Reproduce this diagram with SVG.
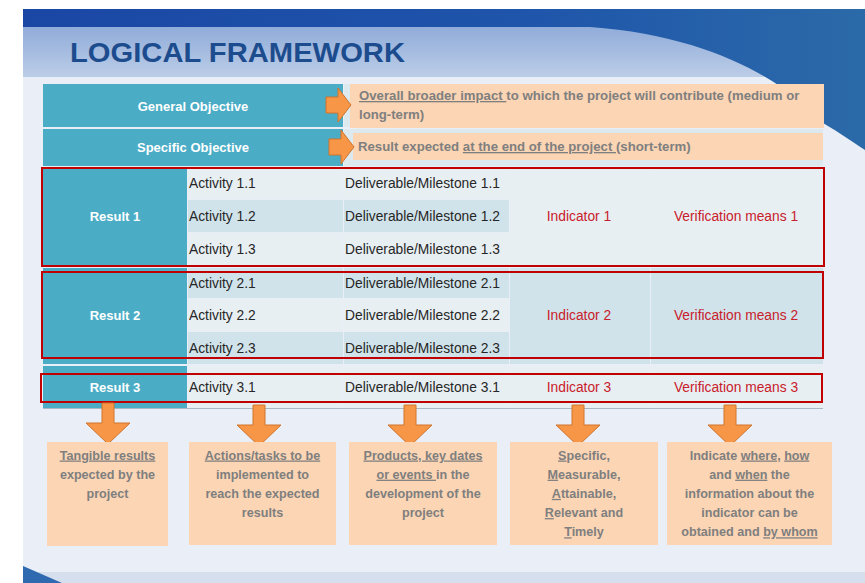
<svg xmlns="http://www.w3.org/2000/svg" width="865" height="583" viewBox="0 0 865 583">
<defs>
<linearGradient id="band" x1="0" y1="0" x2="0" y2="1"><stop offset="0" stop-color="#90acd9"/><stop offset="1" stop-color="#bccde7"/></linearGradient>
<linearGradient id="dark" x1="0" y1="0" x2="1" y2="0"><stop offset="0" stop-color="#1a47a4"/><stop offset="0.6" stop-color="#1f55ab"/><stop offset="1" stop-color="#2b6aa8"/></linearGradient>
<path id="darr" d="M-6,0 H6 V20 H22 L0,41 L-22,20 H-6 Z"/>
<path id="rarr" d="M0,-8 H12 V-17 L25,0 L12,17 V8 H0 Z"/>
<style>
.teal{fill:#4bacc6}
.lt{fill:#e8eff3}
.md{fill:#d1e3ea}
.peach{fill:#fcd5b4}
.arr{fill:#f79646;stroke:#d0742c;stroke-width:1}
.red{fill:none;stroke:#c00000;stroke-width:2}
.wh{font-family:"Liberation Sans",Arial,sans-serif;font-size:13px;font-weight:bold;fill:#ffffff;text-anchor:middle}
.tx{font-family:"Liberation Sans",Arial,sans-serif;font-size:13.8px;fill:#262626}
.rd{font-family:"Liberation Sans",Arial,sans-serif;font-size:13.8px;fill:#c8202a;text-anchor:middle}
.gy{font-family:"Liberation Sans",Arial,sans-serif;font-size:13.2px;font-weight:bold;fill:#7f7f7f}
.gc{font-family:"Liberation Sans",Arial,sans-serif;font-size:12.6px;font-weight:bold;fill:#7f7f7f;text-anchor:middle}
.u{text-decoration:underline}
</style>
</defs>
<rect x="0" y="0" width="865" height="583" fill="#ffffff"/>
<g id="background">
<rect x="23" y="9" width="842" height="574" fill="#e9eef7"/>
<rect x="23" y="572" width="842" height="11" fill="#d6dfee"/>
<rect x="23" y="27" width="842" height="50" fill="url(#band)"/>
<path d="M23,9 H865 V150 C850,140 832,128 818,120 C795,90 720,36 590,27 H23 Z" fill="url(#dark)"/>
<path d="M23,566 L62,583 H23 Z" fill="#2f6ab0"/>
<text x="70" y="62" font-family="'Liberation Sans',Arial,sans-serif" font-size="28.5" font-weight="bold" fill="#1c4c8e" textLength="335" lengthAdjust="spacingAndGlyphs">LOGICAL FRAMEWORK</text>
</g>
<g id="table-cells">
<rect x="43" y="84" width="300" height="43" class="teal"/>
<rect x="344" y="84" width="479" height="43" fill="#dce9ef"/>
<rect x="43" y="129" width="300" height="37" class="teal"/>
<rect x="344" y="129" width="479" height="37" fill="#dce9ef"/>
<rect x="43" y="168" width="144" height="98" class="teal"/>
<rect x="43" y="268" width="144" height="96" class="teal"/>
<rect x="43" y="366" width="144" height="42" class="teal"/>
<rect x="188" y="168" width="155" height="31" class="lt"/>
<rect x="344" y="168" width="165" height="31" class="lt"/>
<rect x="188" y="200" width="155" height="32" class="md"/>
<rect x="344" y="200" width="165" height="32" class="md"/>
<rect x="188" y="233" width="155" height="33" class="lt"/>
<rect x="344" y="233" width="165" height="33" class="lt"/>
<rect x="510" y="168" width="140" height="98" class="lt"/>
<rect x="651" y="168" width="172" height="98" class="lt"/>
<rect x="188" y="268" width="155" height="30" class="md"/>
<rect x="344" y="268" width="165" height="30" class="md"/>
<rect x="188" y="299" width="155" height="32" class="lt"/>
<rect x="344" y="299" width="165" height="32" class="lt"/>
<rect x="188" y="332" width="155" height="32" class="md"/>
<rect x="344" y="332" width="165" height="32" class="md"/>
<rect x="510" y="268" width="140" height="96" class="md"/>
<rect x="651" y="268" width="172" height="96" class="md"/>
<rect x="188" y="366" width="155" height="42" class="lt"/>
<rect x="344" y="366" width="165" height="42" class="lt"/>
<rect x="510" y="366" width="140" height="42" class="lt"/>
<rect x="651" y="366" width="172" height="42" class="lt"/>
<line x1="43" y1="408.5" x2="823" y2="408.5" stroke="#aab8c4" stroke-width="1"/>
</g>
<g id="general-objective">
<text x="193" y="111" class="wh">General Objective</text>
<rect x="350" y="84" width="474" height="44" class="peach"/>
<text x="359" y="100" class="gy"><tspan class="u">Overall broader impact </tspan>to which the project will contribute (medium or</text>
<text x="359" y="119" class="gy">long-term)</text>
</g>
<g id="specific-objective">
<text x="193" y="152" class="wh">Specific Objective</text>
<rect x="353" y="133" width="470" height="27" class="peach"/>
<text x="358" y="151" class="gy">Result expected <tspan class="u">at the end of the project </tspan>(short-term)</text>
</g>
<g id="result-1">
<text x="115" y="221" class="wh">Result 1</text>
<text x="189" y="188" class="tx">Activity 1.1</text>
<text x="345" y="188" class="tx">Deliverable/Milestone 1.1</text>
<text x="189" y="221" class="tx">Activity 1.2</text>
<text x="345" y="221" class="tx">Deliverable/Milestone 1.2</text>
<text x="189" y="254" class="tx">Activity 1.3</text>
<text x="345" y="254" class="tx">Deliverable/Milestone 1.3</text>
<text x="579" y="221" class="rd">Indicator 1</text>
<text x="736" y="221" class="rd">Verification means 1</text>
<rect x="42" y="168" width="782" height="98" class="red"/>
</g>
<g id="result-2">
<text x="115" y="320" class="wh">Result 2</text>
<text x="189" y="288" class="tx">Activity 2.1</text>
<text x="345" y="288" class="tx">Deliverable/Milestone 2.1</text>
<text x="189" y="320" class="tx">Activity 2.2</text>
<text x="345" y="320" class="tx">Deliverable/Milestone 2.2</text>
<text x="189" y="353" class="tx">Activity 2.3</text>
<text x="345" y="353" class="tx">Deliverable/Milestone 2.3</text>
<text x="579" y="320" class="rd">Indicator 2</text>
<text x="736" y="320" class="rd">Verification means 2</text>
<rect x="42" y="272" width="781" height="86" class="red"/>
</g>
<g id="result-3">
<text x="115" y="392" class="wh">Result 3</text>
<text x="189" y="392" class="tx">Activity 3.1</text>
<text x="345" y="392" class="tx">Deliverable/Milestone 3.1</text>
<text x="579" y="392" class="rd">Indicator 3</text>
<text x="736" y="392" class="rd">Verification means 3</text>
<rect x="41" y="374" width="781" height="28" class="red"/>
</g>
<g id="connectors">
<use href="#rarr" x="326" y="105" class="arr"/>
<use href="#rarr" x="329" y="147" class="arr"/>
<use href="#darr" x="108" y="403" class="arr"/>
<use href="#darr" x="259" y="405" class="arr"/>
<use href="#darr" x="410" y="405" class="arr"/>
<use href="#darr" x="578" y="405" class="arr"/>
<use href="#darr" x="730" y="405" class="arr"/>
</g>
<g id="note-results">
<rect x="47" y="442" width="121" height="104" class="peach"/>
<text x="107.5" y="459.5" class="gc"><tspan class="u">Tangible results</tspan></text>
<text x="107.5" y="478.7" class="gc">expected by the</text>
<text x="107.5" y="497.9" class="gc">project</text>
</g>
<g id="note-activities">
<rect x="189" y="442" width="147" height="103" class="peach"/>
<text x="262.5" y="459.5" class="gc"><tspan class="u">Actions/tasks to be</tspan></text>
<text x="262.5" y="478.7" class="gc">implemented to</text>
<text x="262.5" y="497.9" class="gc">reach the expected</text>
<text x="262.5" y="517.1" class="gc">results</text>
</g>
<g id="note-deliverables">
<rect x="349" y="442" width="148" height="103" class="peach"/>
<text x="423" y="459.5" class="gc"><tspan class="u">Products, key dates</tspan></text>
<text x="423" y="478.7" class="gc"><tspan class="u">or events </tspan>in the</text>
<text x="423" y="497.9" class="gc">development of the</text>
<text x="423" y="517.1" class="gc">project</text>
</g>
<g id="note-indicators">
<rect x="510" y="442" width="148" height="103" class="peach"/>
<text x="584" y="459.5" class="gc"><tspan class="u">S</tspan>pecific,</text>
<text x="584" y="478.7" class="gc"><tspan class="u">M</tspan>easurable,</text>
<text x="584" y="497.9" class="gc"><tspan class="u">A</tspan>ttainable,</text>
<text x="584" y="517.1" class="gc"><tspan class="u">R</tspan>elevant and</text>
<text x="584" y="536.3" class="gc"><tspan class="u">T</tspan>imely</text>
</g>
<g id="note-verification">
<rect x="667" y="442" width="165" height="103" class="peach"/>
<text x="749.5" y="459.5" class="gc">Indicate <tspan class="u">where</tspan>, <tspan class="u">how</tspan></text>
<text x="749.5" y="478.7" class="gc">and <tspan class="u">when</tspan> the</text>
<text x="749.5" y="497.9" class="gc">information about the</text>
<text x="749.5" y="517.1" class="gc">indicator can be</text>
<text x="749.5" y="536.3" class="gc">obtained and <tspan class="u">by whom</tspan></text>
</g>
</svg>
